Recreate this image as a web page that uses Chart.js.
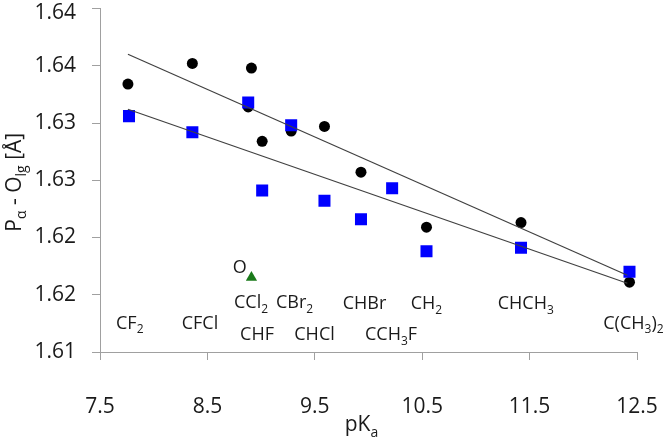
<!DOCTYPE html>
<html lang="en">
<head>
<meta charset="UTF-8">
<title>P-O bond length vs pKa</title>
<script src="https://cdn.jsdelivr.net/npm/chart.js"></script>
<style>
    html, body { margin: 0; padding: 0; background: #fff; }
</style>
</head>
<body>
<canvas id="chart" width="666" height="440"></canvas>
<script>
    // values
    const pKaCircle  = [7.76, 8.36, 8.91, 8.88, 9.01, 9.28, 9.59, 9.93, 10.54, 11.42, 12.43];
    const bondCircle = [1.6334, 1.6352, 1.6348, 1.6314, 1.6284, 1.6293, 1.6297, 1.6257, 1.6209, 1.6213, 1.6161];

    const pKaSquare  = [7.77, 8.36, 8.88, 9.01, 9.28, 9.59, 9.93, 10.22, 10.54, 11.42, 12.43];
    const bondSquare = [1.6306, 1.6292, 1.6318, 1.6241, 1.6298, 1.6232, 1.6216, 1.6243, 1.6188, 1.6191, 1.6170];

    const pKaTriangle  = [8.91];
    const bondTriangle = [1.6165];

    // trend line end points
    const trendUpperX = [7.76, 12.41];
    const trendUpperY = [1.6360, 1.6167];
    const trendLowerX = [7.76, 12.41];
    const trendLowerY = [1.6312, 1.6160];

    const xTicks = [7.5, 8.5, 9.5, 10.5, 11.5, 12.5];
    const xTickLabels = ['7.5', '8.5', '9.5', '10.5', '11.5', '12.5'];
    const yTicks = [1.61, 1.615, 1.62, 1.625, 1.63, 1.635, 1.64];
    const yTickLabels = ['1.61', '1.62', '1.62', '1.63', '1.63', '1.64', '1.64'];

    // in-plot labels, _{..} marks a subscript
    const labelTexts = ['CF_{2}', 'CFCl', 'CCl_{2}', 'CBr_{2}', 'CHF', 'CHCl', 'CHBr',
                        'CH_{2}', 'CCH_{3}F', 'CHCH_{3}', 'C(CH_{3})_{2}', 'O'];
    const labelX = [7.649, 8.261, 8.748, 9.139, 8.804, 9.309, 9.760, 10.393, 9.967, 11.203, 12.186, 8.736];
    const labelY = [1.6126, 1.6126, 1.6144, 1.6144, 1.6116, 1.6116, 1.6143, 1.6143, 1.6116, 1.6143, 1.6126, 1.6175];

    const FONT = "'Open Sans', sans-serif";
    const TEXT = '#1a1a1a';

    function toPoints(xs, ys) {
        return xs.map((x, i) => ({ x: x, y: ys[i] }));
    }

    // draws text with subscripts, y is the middle of the capitals
    function drawRich(ctx, text, x, y, size, align) {
        const parts = text.split(/(_\{[^}]*\})/).filter(p => p.length);
        const subSize = Math.round(size * 0.68);
        let total = 0;
        const items = parts.map(p => {
            const sub = p.startsWith('_{');
            const t = sub ? p.slice(2, -1) : p;
            ctx.font = (sub ? subSize : size) + 'px ' + FONT;
            const w = ctx.measureText(t).width;
            total += w;
            return { t, sub, w };
        });
        let cx = x;
        if (align === 'center') cx = x - total / 2;
        if (align === 'right') cx = x - total;
        const base = y + size * 0.357;
        ctx.textAlign = 'left';
        ctx.textBaseline = 'alphabetic';
        items.forEach(it => {
            ctx.font = (it.sub ? subSize : size) + 'px ' + FONT;
            ctx.fillText(it.t, cx, it.sub ? base + size * 0.26 : base);
            cx += it.w;
        });
    }

    const textPlugin = {
        id: 'textPlugin',
        afterDraw(chart) {
            const ctx = chart.ctx;
            const xs = chart.scales.x, ys = chart.scales.y;
            ctx.save();
            ctx.fillStyle = TEXT;
            labelTexts.forEach((t, i) => {
                drawRich(ctx, t, xs.getPixelForValue(labelX[i]), ys.getPixelForValue(labelY[i]), 18, 'left');
            });
            // top y label is pushed down a little so it stays inside the picture
            const last = yTicks.length - 1;
            drawRich(ctx, yTickLabels[last], chart.chartArea.left - 24, ys.getPixelForValue(yTicks[last]) + 3, 21, 'right');
            // axis titles
            drawRich(ctx, 'pK_{a}', (chart.chartArea.left + chart.chartArea.right) / 2 - 7, 424, 21, 'center');
            ctx.translate(13.5, (chart.chartArea.top + chart.chartArea.bottom) / 2 + 2);
            ctx.rotate(-Math.PI / 2);
            drawRich(ctx, 'P_{α} - O_{lg} [Å]', 0, 0, 21, 'center');
            ctx.restore();
        }
    };

    new Chart(document.getElementById('chart'), {
        type: 'scatter',
        data: {
            datasets: [
                {
                    type: 'line',
                    data: toPoints(trendUpperX, trendUpperY),
                    borderColor: '#404040',
                    borderWidth: 1.2,
                    pointRadius: 0,
                    order: 0
                },
                {
                    type: 'line',
                    data: toPoints(trendLowerX, trendLowerY),
                    borderColor: '#404040',
                    borderWidth: 1.2,
                    pointRadius: 0,
                    order: 0
                },
                {
                    data: toPoints(pKaCircle, bondCircle),
                    pointStyle: 'circle',
                    pointRadius: 5.5,
                    backgroundColor: '#000000',
                    borderWidth: 0,
                    order: 2
                },
                {
                    data: toPoints(pKaSquare, bondSquare),
                    pointStyle: 'rect',
                    pointRadius: 8.5,
                    backgroundColor: '#0000ff',
                    borderWidth: 0,
                    order: 1
                },
                {
                    data: toPoints(pKaTriangle, bondTriangle),
                    pointStyle: 'triangle',
                    pointRadius: 6.5,
                    backgroundColor: '#1a7a1a',
                    borderWidth: 0,
                    order: 1
                }
            ]
        },
        options: {
            responsive: false,
            animation: false,
            devicePixelRatio: 1,
            layout: { padding: { top: 6, right: 29, left: 0, bottom: 0 } },
            plugins: {
                legend: { display: false },
                tooltip: { enabled: false }
            },
            scales: {
                x: {
                    type: 'linear',
                    min: 7.5,
                    max: 12.5,
                    afterBuildTicks: s => { s.ticks = xTicks.map(v => ({ value: v })); },
                    afterFit: s => { s.height = 88; s.paddingLeft = 0; s.paddingRight = 0; },
                    grid: { drawOnChartArea: false, tickLength: 8, color: '#a0a0a0' },
                    border: { color: '#a0a0a0', width: 1 },
                    ticks: {
                        padding: 34,
                        color: TEXT,
                        font: { family: FONT, size: 21 },
                        callback: (v, i) => xTickLabels[i]
                    }
                },
                y: {
                    type: 'linear',
                    min: 1.61,
                    max: 1.64,
                    afterBuildTicks: s => { s.ticks = yTicks.map(v => ({ value: v })); },
                    afterFit: s => { s.width = 100; s.paddingTop = 0; s.paddingBottom = 0; },
                    grid: { drawOnChartArea: false, tickLength: 8, color: '#a0a0a0' },
                    border: { color: '#a0a0a0', width: 1 },
                    ticks: {
                        padding: 16,
                        color: TEXT,
                        font: { family: FONT, size: 21 },
                        callback: (v, i) => i === yTicks.length - 1 ? '' : yTickLabels[i]
                    }
                }
            }
        },
        plugins: [textPlugin]
    });
</script>
</body>
</html>
